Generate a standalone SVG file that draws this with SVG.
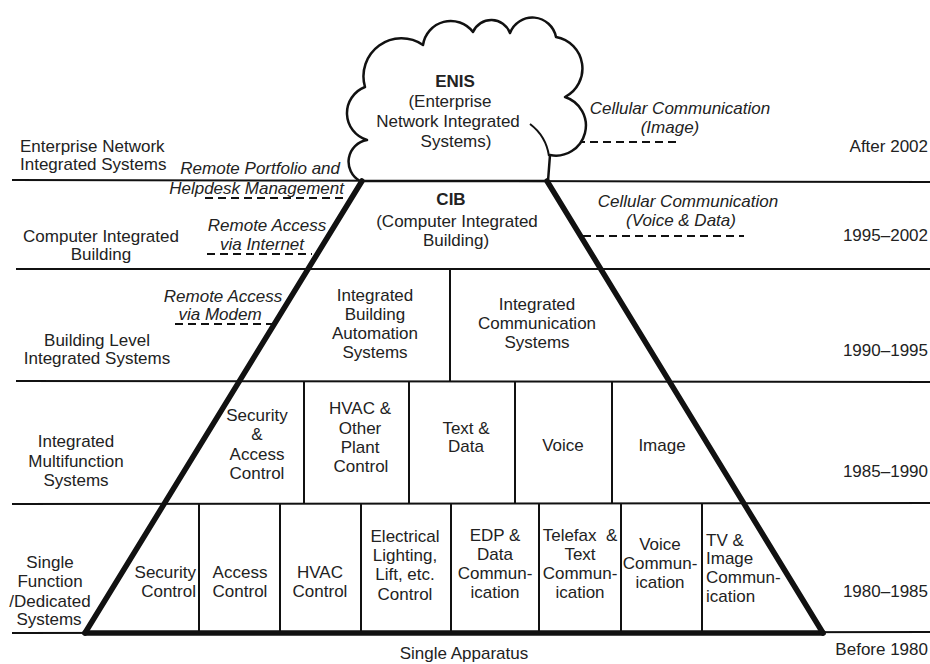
<svg xmlns="http://www.w3.org/2000/svg" width="930" height="664" viewBox="0 0 930 664">
<style>
text{font-family:"Liberation Sans",Arial,sans-serif;font-size:17px;fill:#222}
.c{text-anchor:middle}
.r{text-anchor:end}
.i{font-style:italic}
.b{font-weight:bold}
.ln{stroke:#111;stroke-width:2;fill:none}
.thick{stroke:#111;stroke-width:5.5;fill:none;stroke-linecap:round}
.dash{stroke:#111;stroke-width:2;stroke-dasharray:8 5;fill:none}
.cloud{stroke:#111;stroke-width:2.5;fill:#fff;stroke-linejoin:round}
</style>
<rect width="930" height="664" fill="#fff"/>
<g id="connectors">
<line class="ln" x1="12" y1="180" x2="930" y2="182"/>
<line class="ln" x1="16" y1="269" x2="930" y2="269"/>
<line class="ln" x1="16" y1="381" x2="930" y2="382"/>
<line class="ln" x1="12" y1="504" x2="930" y2="503"/>
<line class="ln" x1="12" y1="633" x2="930" y2="632"/>
<line class="thick" x1="85" y1="633" x2="823" y2="633"/>
<line class="ln" x1="450" y1="269" x2="450" y2="381"/>
<line class="ln" x1="304" y1="381" x2="304" y2="504"/>
<line class="ln" x1="409" y1="381" x2="409" y2="504"/>
<line class="ln" x1="515" y1="381" x2="515" y2="504"/>
<line class="ln" x1="612" y1="381" x2="612" y2="504"/>
<line class="ln" x1="199" y1="504" x2="199" y2="633"/>
<line class="ln" x1="280" y1="504" x2="280" y2="633"/>
<line class="ln" x1="361" y1="504" x2="361" y2="633"/>
<line class="ln" x1="451" y1="504" x2="451" y2="633"/>
<line class="ln" x1="539" y1="504" x2="539" y2="633"/>
<line class="ln" x1="621" y1="504" x2="621" y2="633"/>
<line class="ln" x1="702" y1="504" x2="702" y2="633"/>
<line class="dash" x1="205" y1="198" x2="347" y2="198"/>
<line class="dash" x1="207" y1="254" x2="312" y2="254"/>
<line class="dash" x1="175" y1="324" x2="273" y2="324"/>
<line class="dash" x1="577" y1="142" x2="680" y2="142"/>
<line class="dash" x1="583" y1="236" x2="744" y2="236"/>
</g>
<g id="cloud">
<path class="cloud" d="M360,181 A22,22 0 0 1 367,140 A28,28 0 0 1 365,87 A38,38 0 0 1 423,45 A28,28 0 0 1 473,32 A20,20 0 0 1 510,33 A24,24 0 0 1 556,37 A32,32 0 0 1 565,97 A30,30 0 0 1 550,155 L548,181 Z"/>
<path class="ln" stroke-width="2.5" d="M530,124 Q546,136 549,156"/>
<text class="c b" x="455" y="87">ENIS</text>
<text class="c" x="450" y="107">(Enterprise</text>
<text class="c" x="448" y="127">Network Integrated</text>
<text class="c" x="456" y="147">Systems)</text>
</g>
<g id="pyramid">
<line class="thick" x1="362" y1="181" x2="85" y2="633"/>
<line class="thick" x1="547" y1="181" x2="823" y2="633"/>
</g>
<g id="cib">
<text class="c b" x="451" y="205">CIB</text>
<text class="c" x="457" y="227">(Computer Integrated</text>
<text class="c" x="456" y="246">Building)</text>
</g>
<g id="ibas">
<text class="c" x="375" y="301">Integrated</text>
<text class="c" x="375" y="320">Building</text>
<text class="c" x="375" y="339">Automation</text>
<text class="c" x="375" y="358">Systems</text>
</g>
<g id="ics">
<text class="c" x="537" y="310">Integrated</text>
<text class="c" x="537" y="329">Communication</text>
<text class="c" x="537" y="348">Systems</text>
</g>
<g id="row4">
<text class="c" x="257" y="421">Security</text>
<text class="c" x="257" y="440">&amp;</text>
<text class="c" x="257" y="460">Access</text>
<text class="c" x="257" y="479">Control</text>
<text class="c" x="360" y="414">HVAC &amp;</text>
<text class="c" x="360" y="434">Other</text>
<text class="c" x="360" y="453">Plant</text>
<text class="c" x="361" y="472">Control</text>
<text class="c" x="466" y="434">Text &amp;</text>
<text class="c" x="466" y="452">Data</text>
<text class="c" x="563" y="451">Voice</text>
<text class="c" x="662" y="451">Image</text>
</g>
<g id="row5">
<text class="r" x="196" y="578">Security</text>
<text class="r" x="196" y="597">Control</text>
<text class="c" x="240" y="578">Access</text>
<text class="c" x="240" y="597">Control</text>
<text class="c" x="320" y="578">HVAC</text>
<text class="c" x="320" y="597">Control</text>
<text class="c" x="405" y="542">Electrical</text>
<text class="c" x="405" y="561">Lighting,</text>
<text class="c" x="405" y="580">Lift, etc.</text>
<text class="c" x="405" y="600">Control</text>
<text class="c" x="495" y="541">EDP &amp;</text>
<text class="c" x="495" y="560">Data</text>
<text class="c" x="495" y="579">Commun-</text>
<text class="c" x="495" y="598">ication</text>
<text class="c" x="580" y="541">Telefax&#160; &amp;</text>
<text class="c" x="580" y="560">Text</text>
<text class="c" x="580" y="579">Commun-</text>
<text class="c" x="580" y="598">ication</text>
<text class="c" x="660" y="550">Voice</text>
<text class="c" x="660" y="569">Commun-</text>
<text class="c" x="660" y="588">ication</text>
<text x="706" y="546">TV &amp;</text>
<text x="706" y="564">Image</text>
<text x="706" y="583">Commun-</text>
<text x="706" y="602">ication</text>
</g>
<g id="left-labels">
<text x="20" y="152">Enterprise Network</text>
<text x="20" y="170">Integrated Systems</text>
<text class="c" x="101" y="242">Computer Integrated</text>
<text class="c" x="101" y="260">Building</text>
<text class="c" x="97" y="346">Building Level</text>
<text class="c" x="97" y="364">Integrated Systems</text>
<text class="c" x="76" y="447">Integrated</text>
<text class="c" x="76" y="467">Multifunction</text>
<text class="c" x="76" y="486">Systems</text>
<text class="c" x="50" y="568">Single</text>
<text class="c" x="50" y="587">Function</text>
<text class="c" x="50" y="607">/Dedicated</text>
<text class="c" x="49" y="625">Systems</text>
</g>
<g id="italic-labels">
<text class="r i" x="340" y="174">Remote Portfolio and</text>
<text class="r i" x="344" y="194">Helpdesk Management</text>
<text class="c i" x="267" y="231">Remote Access</text>
<text class="c i" x="262" y="250">via Internet</text>
<text class="c i" x="223" y="302">Remote Access</text>
<text class="c i" x="220" y="320">via Modem</text>
<text class="c i" x="680" y="114">Cellular Communication</text>
<text class="c i" x="670" y="133">(Image)</text>
<text class="c i" x="688" y="207">Cellular Communication</text>
<text class="c i" x="681" y="226">(Voice &amp; Data)</text>
</g>
<g id="years">
<text class="r" x="928" y="152">After 2002</text>
<text class="r" x="928" y="241">1995–2002</text>
<text class="r" x="928" y="356">1990–1995</text>
<text class="r" x="928" y="477">1985–1990</text>
<text class="r" x="928" y="597">1980–1985</text>
<text class="r" x="928" y="655">Before 1980</text>
<text class="c" x="464" y="659">Single Apparatus</text>
</g>
</svg>
